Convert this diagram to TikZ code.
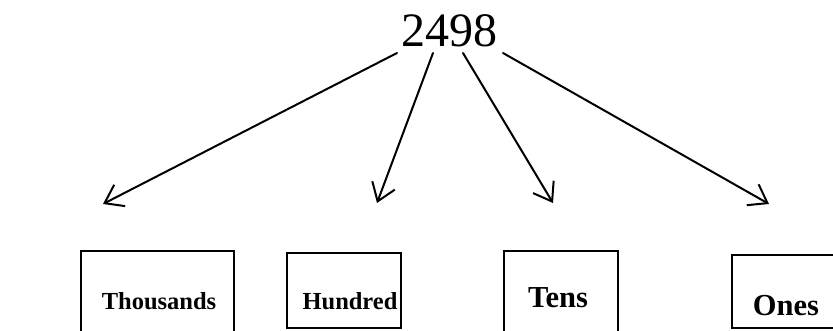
\documentclass[tikz,border=0pt]{standalone}
\usepackage{fontspec}
\setmainfont{Liberation Serif}
\usetikzlibrary{arrows.meta}
\begin{document}
\begin{tikzpicture}[x=1pt,y=-1pt,
  conn/.style={line width=2pt,line cap=round,-{Straight Barb[length=17pt,width=24pt,line width=2pt]}},
  digitbox/.style={draw,line width=2pt,rectangle,inner sep=0pt,anchor=north west},
  lbl/.style={font=\bfseries\fontsize{24.5}{24.5}\selectfont,anchor=base,inner sep=0pt},
  lblbig/.style={font=\bfseries\fontsize{30.5}{30.5}\selectfont,anchor=base,inner sep=0pt}]
\useasboundingbox (0,0) rectangle (833,331);
\node[font=\fontsize{48}{48}\selectfont,anchor=base,inner sep=0pt] (num) at (449,47) {2498};
% boxes
\node[digitbox,minimum width=153pt,minimum height=100pt] (thou) at (80,250) {};
\node[digitbox,minimum width=114pt,minimum height=75pt] (hund) at (286,252) {};
\node[digitbox,minimum width=114pt,minimum height=100pt] (tens) at (503,250) {};
\node[digitbox,minimum width=112pt,minimum height=73pt] (ones) at (731,254) {};
% labels
\node[lbl] (thouT) at (159,309) {Thousands};
\node[lbl] (hundT) at (350,309) {Hundred};
\node[lblbig] (tensT) at (558,307) {Tens};
\node[lblbig] (onesT) at (786,315) {Ones};
% connector ends
\coordinate (s1) at (397,53);
\coordinate (s2) at (433,53);
\coordinate (s3) at (463,53);
\coordinate (s4) at (503,53);
\coordinate (e1) at (103,204);
\coordinate (e2) at (377,203);
\coordinate (e3) at (553,203);
\coordinate (e4) at (769,204);
\draw[conn] (s1) -- (e1);
\draw[conn] (s2) -- (e2);
\draw[conn] (s3) -- (e3);
\draw[conn] (s4) -- (e4);
\end{tikzpicture}
\end{document}
